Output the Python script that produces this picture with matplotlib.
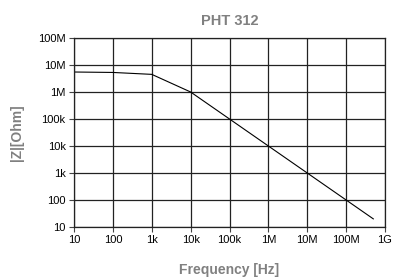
import numpy as np
import matplotlib.pyplot as plt
from matplotlib.ticker import FixedLocator, NullLocator

plt.rcParams['font.family'] = ['Liberation Sans', 'DejaVu Sans']

# data
freq = [10, 100, 1e3, 1e4, 1e5, 1e6, 1e7, 1e8, 5e8]
imp = [5.5e6, 5.3e6, 4.5e6, 1e6, 1e5, 1e4, 1e3, 100, 20]

xticks = [10, 100, 1e3, 1e4, 1e5, 1e6, 1e7, 1e8, 1e9]
xlabels = ["10", "100", "1k", "10k", "100k", "1M", "10M", "100M", "1G"]
yticks = [10, 100, 1e3, 1e4, 1e5, 1e6, 1e7, 1e8]
ylabels = ["10", "100", "1k", "10k", "100k", "1M", "10M", "100M"]

fig = plt.figure(figsize=(3.95, 2.78), dpi=100)
ax = fig.add_axes([74/395, 1-227/278, 311/395, 189/278])

ax.plot(freq, imp, color="black", lw=0.8)
ax.set_xscale("log")
ax.set_yscale("log")
ax.set_xlim(10, 1e9)
ax.set_ylim(10, 1e8)
ax.xaxis.set_major_locator(FixedLocator(xticks))
ax.yaxis.set_major_locator(FixedLocator(yticks))
ax.xaxis.set_minor_locator(NullLocator())
ax.yaxis.set_minor_locator(NullLocator())
ax.set_xticklabels(xlabels)
ax.set_yticklabels(ylabels)
ax.grid(True, color="#222222", lw=0.9)
ax.tick_params(labelsize=8, length=3.5, width=0.8, color="#444444", pad=2.5)
for s in ax.spines.values():
    s.set_color("#222222")
    s.set_linewidth(0.9)

ax.set_title("PHT 312", fontsize=10.5, fontweight="bold", color="#808080", pad=9.5)
ax.set_xlabel("Frequency [Hz]", fontsize=10, fontweight="bold", color="#808080", labelpad=13)
ax.set_ylabel("|Z|[Ohm]", fontsize=10, fontweight="bold", color="#808080", labelpad=10)

fig.savefig("out.png", dpi=100)
